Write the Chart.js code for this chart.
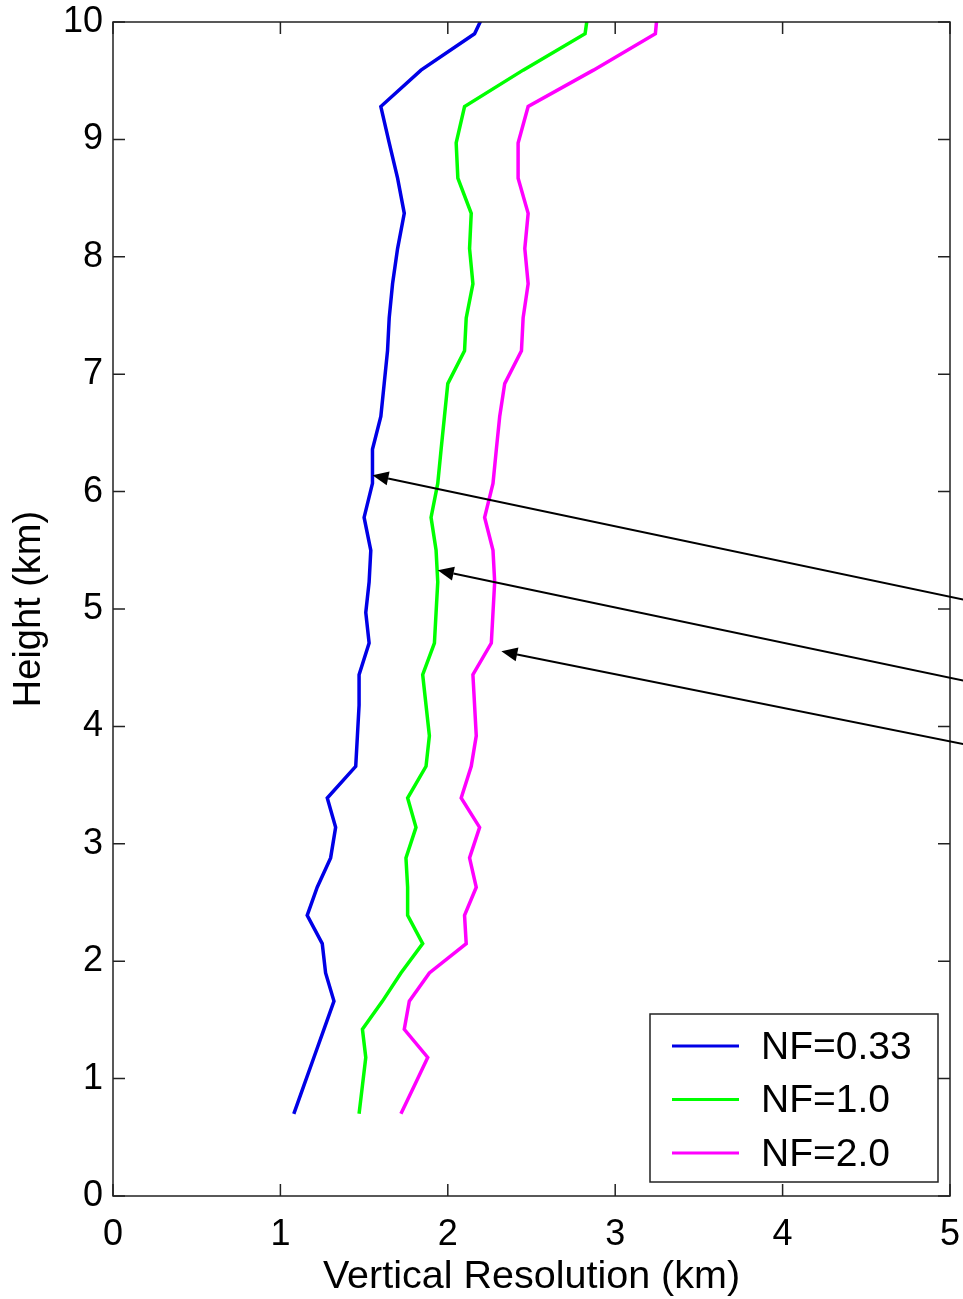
<!DOCTYPE html>
<html>
<head>
<meta charset="utf-8">
<title>Vertical Resolution</title>
<script src="https://cdn.jsdelivr.net/npm/chart.js@4.4.1/dist/chart.umd.min.js"></script>
<style>
  html, body { margin: 0; padding: 0; background: #fff; }
  canvas { display: block; }
</style>
</head>
<body>
<canvas id="chart-1" width="963" height="1299"></canvas>
<script>
// Height levels (km), shared by the three curves
const heights = [0.70, 0.94, 1.18, 1.42, 1.66, 1.90, 2.15, 2.39, 2.63, 2.88,
                 3.14, 3.39, 3.66, 3.92, 4.18, 4.44, 4.71, 4.97, 5.23, 5.50,
                 5.78, 6.07, 6.36, 6.64, 6.92, 7.20, 7.48, 7.77, 8.07, 8.37,
                 8.67, 8.97, 9.28, 9.59, 9.90, 10.20];

// Vertical resolution (km) for each noise factor
const resNF033 = [1.08, 1.14, 1.20, 1.26, 1.32, 1.27, 1.25, 1.16, 1.22, 1.30,
                  1.33, 1.28, 1.45, 1.46, 1.47, 1.47, 1.53, 1.51, 1.53, 1.54,
                  1.50, 1.55, 1.55, 1.60, 1.62, 1.64, 1.65, 1.67, 1.70, 1.74,
                  1.70, 1.65, 1.60, 1.84, 2.16, 2.26];
const resNF10 = [1.47, 1.49, 1.51, 1.49, 1.61, 1.72, 1.85, 1.76, 1.76, 1.75,
                 1.81, 1.76, 1.87, 1.89, 1.87, 1.85, 1.92, 1.93, 1.94, 1.93,
                 1.90, 1.94, 1.96, 1.98, 2.00, 2.10, 2.11, 2.15, 2.13, 2.14,
                 2.06, 2.05, 2.10, 2.45, 2.82, 2.85];
const resNF20 = [1.72, 1.80, 1.88, 1.74, 1.77, 1.89, 2.11, 2.10, 2.17, 2.13,
                 2.19, 2.08, 2.14, 2.17, 2.16, 2.15, 2.26, 2.27, 2.28, 2.27,
                 2.22, 2.27, 2.29, 2.31, 2.34, 2.44, 2.45, 2.48, 2.46, 2.48,
                 2.42, 2.42, 2.48, 2.87, 3.24, 3.26];

const seriesLabels = ['NF=0.33', 'NF=1.0', 'NF=2.0'];
const seriesColors = ['#0000e6', '#00ff00', '#ff00ff'];

const xTicks = [0, 1, 2, 3, 4, 5];
const yTicks = [0, 1, 2, 3, 4, 5, 6, 7, 8, 9, 10];

// Arrows pointing at the curves (km): tip and tail
const arrowTipX = [1.55, 1.94, 2.32];
const arrowTipY = [6.14, 5.33, 4.64];
const arrowTailX = [5.08, 5.08, 5.08];
const arrowTailY = [5.08, 4.39, 3.85];

const FONT = 'Liberation Sans, Arial, Helvetica, sans-serif';

function toPoints(res) {
    return res.map((r, i) => ({x: r, y: heights[i]}));
}

// Box around the plot, inward ticks on all four sides, arrows and legend
const matlabAxes = {
    id: 'matlabAxes',
    afterDraw(chart) {
        const ctx = chart.ctx;
        const area = chart.chartArea;
        const xs = chart.scales.x;
        const ys = chart.scales.y;
        const tick = 12;

        ctx.save();
        ctx.strokeStyle = '#222';
        ctx.lineWidth = 1.5;
        ctx.strokeRect(area.left, area.top, area.right - area.left, area.bottom - area.top);

        ctx.beginPath();
        xTicks.forEach(v => {
            const px = xs.getPixelForValue(v);
            ctx.moveTo(px, area.bottom);
            ctx.lineTo(px, area.bottom - tick);
            ctx.moveTo(px, area.top);
            ctx.lineTo(px, area.top + tick);
        });
        yTicks.forEach(v => {
            const py = ys.getPixelForValue(v);
            ctx.moveTo(area.left, py);
            ctx.lineTo(area.left + tick, py);
            ctx.moveTo(area.right, py);
            ctx.lineTo(area.right - tick, py);
        });
        ctx.stroke();

        // arrows
        ctx.strokeStyle = '#000';
        ctx.fillStyle = '#000';
        ctx.lineWidth = 2;
        arrowTipX.forEach((tx, i) => {
            const x1 = xs.getPixelForValue(arrowTailX[i]);
            const y1 = ys.getPixelForValue(arrowTailY[i]);
            const x2 = xs.getPixelForValue(tx);
            const y2 = ys.getPixelForValue(arrowTipY[i]);
            const ang = Math.atan2(y2 - y1, x2 - x1);
            const len = 16, half = 7;
            const bx = x2 - len * Math.cos(ang);
            const by = y2 - len * Math.sin(ang);
            ctx.beginPath();
            ctx.moveTo(x1, y1);
            ctx.lineTo(bx, by);
            ctx.stroke();
            ctx.beginPath();
            ctx.moveTo(x2, y2);
            ctx.lineTo(bx + half * Math.sin(ang), by - half * Math.cos(ang));
            ctx.lineTo(bx - half * Math.sin(ang), by + half * Math.cos(ang));
            ctx.closePath();
            ctx.fill();
        });

        // legend box in the lower right corner
        const lw = 288, lh = 168;
        const lx = area.right - 12 - lw;
        const ly = area.bottom - 14 - lh;
        ctx.fillStyle = '#fff';
        ctx.fillRect(lx, ly, lw, lh);
        ctx.strokeStyle = '#222';
        ctx.lineWidth = 1.5;
        ctx.strokeRect(lx, ly, lw, lh);
        ctx.font = '39px ' + FONT;
        ctx.textBaseline = 'middle';
        ctx.textAlign = 'left';
        chart.data.datasets.forEach((ds, i) => {
            const rowY = ly + 32 + i * 53.5;
            ctx.strokeStyle = ds.borderColor;
            ctx.lineWidth = 3;
            ctx.beginPath();
            ctx.moveTo(lx + 22, rowY);
            ctx.lineTo(lx + 89, rowY);
            ctx.stroke();
            ctx.fillStyle = '#000';
            ctx.fillText(ds.label, lx + 111, rowY + 2);
        });
        ctx.restore();
    }
};

document.addEventListener('DOMContentLoaded', function () {
    const ctx = document.getElementById('chart-1').getContext('2d');

    new Chart(ctx, {
        type: 'scatter',
        data: {
            datasets: [resNF033, resNF10, resNF20].map((res, i) => ({
                label: seriesLabels[i],
                data: toPoints(res),
                showLine: true,
                borderColor: seriesColors[i],
                backgroundColor: seriesColors[i],
                borderWidth: 3.5,
                pointRadius: 0,
                tension: 0
            }))
        },
        options: {
            responsive: false,
            animation: false,
            devicePixelRatio: 1,
            layout: {padding: {left: 0, right: 13, top: 22, bottom: 0}},
            plugins: {
                legend: {display: false},
                tooltip: {enabled: false}
            },
            scales: {
                x: {
                    type: 'linear',
                    min: 0,
                    max: 5,
                    afterFit: scale => {
                        scale.height = 103;
                        scale.paddingLeft = 0;
                        scale.paddingRight = 0;
                    },
                    grid: {display: false, drawTicks: false},
                    border: {display: false},
                    ticks: {
                        stepSize: 1,
                        padding: 17,
                        color: '#000',
                        font: {family: FONT, size: 36}
                    },
                    title: {
                        display: true,
                        text: 'Vertical Resolution (km)',
                        color: '#000',
                        font: {family: FONT, size: 39.5, lineHeight: 1},
                        padding: {top: 0, bottom: 2}
                    }
                },
                y: {
                    type: 'linear',
                    min: 0,
                    max: 10,
                    afterFit: scale => {
                        scale.width = 113;
                        scale.paddingTop = 0;
                        scale.paddingBottom = 0;
                    },
                    grid: {display: false, drawTicks: false},
                    border: {display: false},
                    ticks: {
                        stepSize: 1,
                        padding: 10,
                        color: '#000',
                        font: {family: FONT, size: 36}
                    },
                    title: {
                        display: true,
                        text: 'Height (km)',
                        color: '#000',
                        font: {family: FONT, size: 38, lineHeight: 1},
                        padding: {top: 11, bottom: 0}
                    }
                }
            }
        },
        plugins: [matlabAxes]
    });
});
</script>
</body>
</html>
